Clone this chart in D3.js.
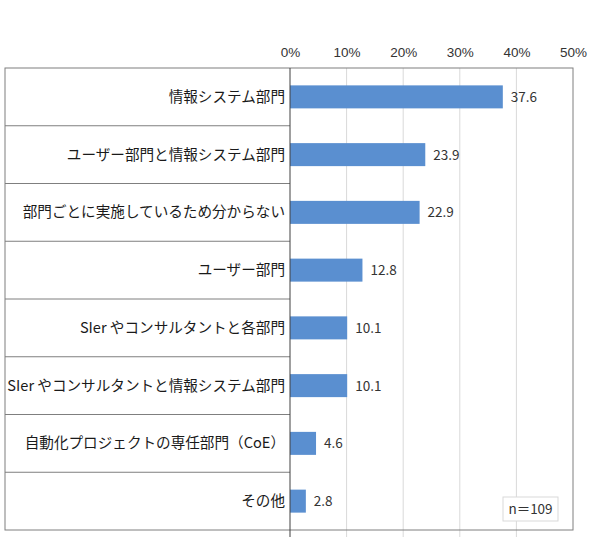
<!DOCTYPE html>
<html><head><meta charset="utf-8">
<script src="https://cdn.jsdelivr.net/npm/d3@7"></script>
<style>body{margin:0;background:#fff}svg{display:block}</style>
</head><body>
<svg id="c" width="590" height="546"></svg>
<script>
const categories = ["情報システム部門","ユーザー部門と情報システム部門","部門ごとに実施しているため分からない","ユーザー部門","SIer やコンサルタントと各部門","SIer やコンサルタントと情報システム部門","自動化プロジェクトの専任部門（CoE）","その他"];
const values = [37.6, 23.9, 22.9, 12.8, 10.1, 10.1, 4.6, 2.8];
const tickValues = [0, 10, 20, 30, 40, 50];
const sampleNote = "n＝109";

(function () {
const svg = d3.select("#c");
const L = 5, axisX = 290, R = 573, T = 68, B = 530;
const font = "'Noto Sans CJK JP', 'Noto Sans', sans-serif";

const x = d3.scaleLinear().domain([0, 50]).range([axisX, R]);
const y = d3.scaleBand().domain(categories).range([T, B]).paddingInner(0).paddingOuter(0);

// gridlines
svg.append("g").selectAll("line").data(tickValues.filter(d => d > 0 && d < 50)).join("line")
  .attr("x1", d => x(d)).attr("x2", d => x(d)).attr("y1", T).attr("y2", B + 7)
  .attr("stroke", "#d9d9d9").attr("stroke-width", 1);

// top axis labels
const ax = d3.axisTop(x).tickValues(tickValues).tickFormat(d => d + "%").tickSize(0).tickPadding(0);
const axg = svg.append("g").attr("transform", `translate(0,${T - 11})`).call(ax);
axg.select(".domain").remove();
axg.selectAll("text").attr("font-family", "'Liberation Sans', Arial, sans-serif").attr("font-size", 13.5).attr("fill", "#333").attr("dy", 0);

// bars
const bh = 23;
svg.append("g").selectAll("rect").data(values).join("rect")
  .attr("x", x(0)).attr("y", (d, i) => y(categories[i]) + y.bandwidth() / 2 - bh / 2)
  .attr("width", d => x(d) - x(0)).attr("height", bh).attr("fill", "#5a8fd0");

// value labels
svg.append("g").selectAll("text").data(values).join("text")
  .attr("x", d => x(d) + 8).attr("y", (d, i) => y(categories[i]) + y.bandwidth() / 2 + 5)
  .attr("font-family", font).attr("font-size", 13.5).attr("fill", "#333")
  .text(d => d.toFixed(1));

// category labels
svg.append("g").selectAll("text").data(categories).join("text")
  .attr("x", axisX - 5).attr("y", d => y(d) + y.bandwidth() / 2 + 5)
  .attr("text-anchor", "end").attr("font-family", font).attr("font-size", 14.6).attr("fill", "#1a1a1a")
  .text(d => d);

// row separators in label area
svg.append("g").selectAll("line").data(categories.slice(1)).join("line")
  .attr("x1", L).attr("x2", axisX).attr("y1", d => y(d)).attr("y2", d => y(d))
  .attr("stroke", "#7f7f7f").attr("stroke-width", 1);

// outer border
svg.append("rect").attr("x", L).attr("y", T).attr("width", R - L).attr("height", B - T)
  .attr("fill", "none").attr("stroke", "#7f7f7f").attr("stroke-width", 1);

// axis line
svg.append("line").attr("x1", axisX).attr("x2", axisX).attr("y1", T).attr("y2", B + 7)
  .attr("stroke", "#404040").attr("stroke-width", 1);

// n box
const nb = svg.append("g");
nb.append("rect").attr("x", 503).attr("y", 497).attr("width", 55).attr("height", 24)
  .attr("fill", "#fff").attr("stroke", "#d9d9d9");
nb.append("text").attr("x", 530.5).attr("y", 514).attr("text-anchor", "middle")
  .attr("font-family", font).attr("font-size", 13.5).attr("fill", "#333").text(sampleNote);
})();
</script>
</body></html>
